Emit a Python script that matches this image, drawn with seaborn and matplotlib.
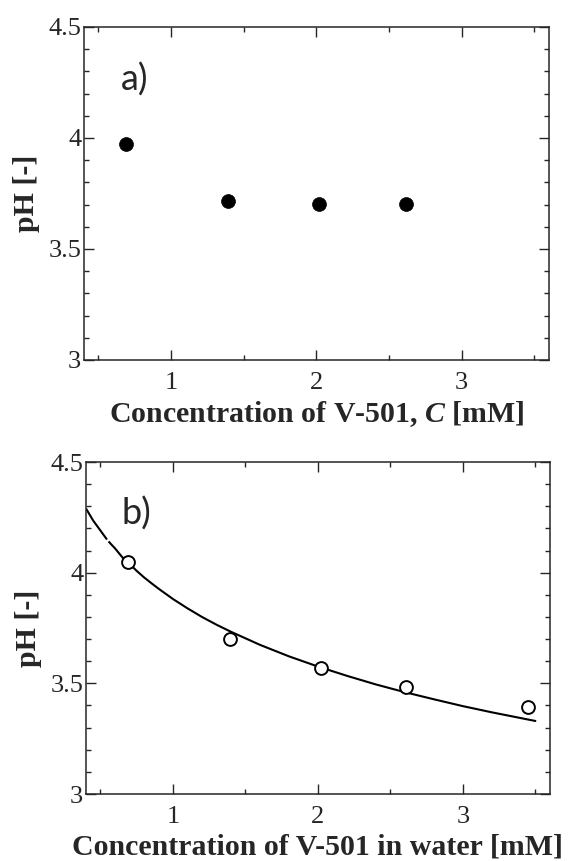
import numpy as np
import pandas as pd
import matplotlib
matplotlib.use("Agg")
import matplotlib.pyplot as plt
import seaborn as sns
from matplotlib.ticker import MultipleLocator

# datos
conc_a = [0.69, 1.39, 2.02, 2.615]
ph_a = [3.973, 3.716, 3.703, 3.703]

conc_b = [0.69, 1.39, 2.02, 2.61, 3.45]
ph_b = [4.05, 3.70, 3.57, 3.484, 3.394]

# curva ajustada (parte extrapolada a trazos)
curva_x_ext = [0.40, 0.45, 0.50, 0.55, 0.60, 0.65, 0.70]
curva_y_ext = [4.29, 4.235, 4.19, 4.145, 4.11, 4.07, 4.04]
curva_x = [0.70, 0.75, 0.80, 0.85, 0.90, 1.0, 1.1, 1.2, 1.3, 1.4, 1.6, 1.8, 2.0, 2.2, 2.4, 2.6, 2.8, 3.0, 3.2, 3.5]
curva_y = [4.04, 4.008, 3.979, 3.953, 3.928, 3.881, 3.839, 3.80, 3.765, 3.733, 3.674, 3.622, 3.576, 3.534,
           3.495, 3.46, 3.428, 3.397, 3.369, 3.33]

sns.set_style("ticks")
plt.rcParams['font.family'] = ['Liberation Serif', 'DejaVu Serif']
plt.rcParams['mathtext.fontset'] = 'custom'
plt.rcParams['mathtext.rm'] = 'Liberation Serif'
plt.rcParams['mathtext.bf'] = 'Liberation Serif:bold'
plt.rcParams['mathtext.bfit'] = 'Liberation Serif:italic:bold'
plt.rcParams['axes.linewidth'] = 1.1

fig = plt.figure(figsize=(5.71, 8.61), dpi=100)
ax1 = fig.add_axes([0.147, 0.5819, 0.814, 0.3868])
ax2 = fig.add_axes([0.1506, 0.0778, 0.8124, 0.3856])

df_a = pd.DataFrame({'C': conc_a, 'pH': ph_a})
sns.scatterplot(data=df_a, x='C', y='pH', ax=ax1, color='black', s=100, edgecolor='black', linewidth=0.5)

df_b = pd.DataFrame({'C': conc_b, 'pH': ph_b})
sns.lineplot(x=curva_x, y=curva_y, ax=ax2, color='black', linewidth=1.5, sort=False)
sns.lineplot(x=curva_x_ext, y=curva_y_ext, ax=ax2, color='black', linewidth=1.5, sort=False,
             linestyle=(0, (18, 1.2)))
sns.scatterplot(data=df_b, x='C', y='pH', ax=ax2, facecolor='white', edgecolor='black', s=85, linewidth=1.4, zorder=5)

for ax, lab, etiqueta in [(ax1, 'Concentration of V-501, $\\mathbfit{C}$ [mM]', 'a)'),
                          (ax2, 'Concentration of V-501 in water [mM]', 'b)')]:
    ax.set_xlim(0.4, 3.6)
    ax.set_ylim(3, 4.5)
    ax.xaxis.set_major_locator(MultipleLocator(1))
    ax.xaxis.set_minor_locator(MultipleLocator(0.5))
    ax.yaxis.set_major_locator(MultipleLocator(0.5))
    ax.yaxis.set_minor_locator(MultipleLocator(0.1))
    ax.set_yticks([3, 3.5, 4, 4.5])
    ax.set_yticklabels(['3', '3.5', '4', '4.5'])
    ax.tick_params(which='both', direction='in', top=True, right=True, labelsize=19, width=1.0)
    ax.tick_params(axis='x', which='both', pad=8.5)
    ax.tick_params(axis='y', which='both', pad=2)
    ax.tick_params(which='major', length=7)
    ax.tick_params(which='minor', length=3.5)
    ax.set_xlabel(lab, fontsize=21.5, fontweight='bold', labelpad=4)
    ax.set_ylabel('pH [-]', fontsize=21.5, fontweight='bold', labelpad=6)
    ax.text(0.75, 4.265, etiqueta, fontsize=26, family=['Lato', 'DejaVu Sans'], ha='center', va='center')

fig.savefig('out.png', dpi=100)
